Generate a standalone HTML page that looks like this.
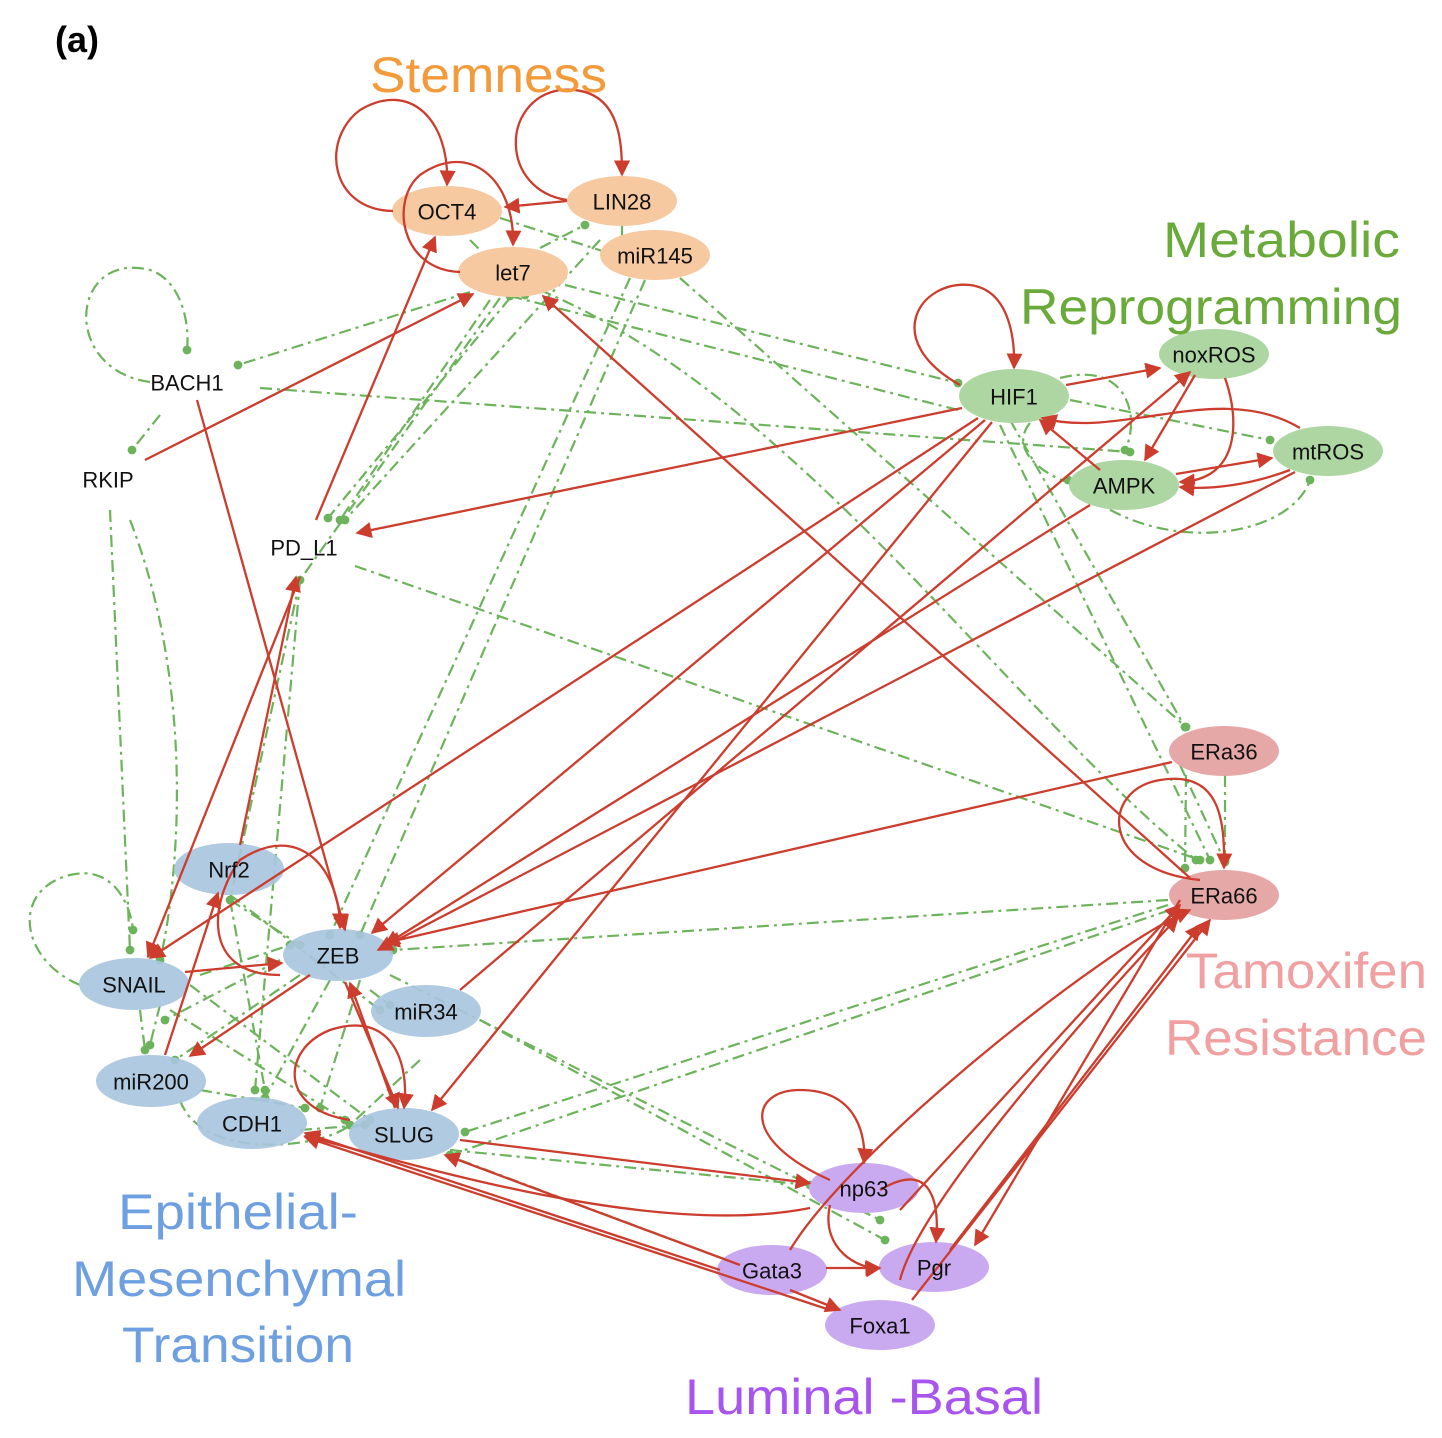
<!DOCTYPE html>
<html><head><meta charset="utf-8"><style>
html,body{margin:0;padding:0;background:#fff;}
svg{display:block;font-family:"Liberation Sans",Arial,sans-serif;}
</style></head><body>
<svg width="1442" height="1438" viewBox="0 0 1442 1438" xmlns="http://www.w3.org/2000/svg">
<defs>
<marker id="ar" viewBox="0 0 10 10" refX="9" refY="5" markerWidth="7" markerHeight="7" orient="auto"><path d="M0,0L10,5L0,10z" fill="#cc3d2e"/></marker>
<marker id="dt" viewBox="0 0 10 10" refX="5" refY="5" markerWidth="4" markerHeight="4"><circle cx="5" cy="5" r="5" fill="#6db35c"/></marker>
</defs>
<g fill="none" stroke="#6db35c" stroke-width="2.2" stroke-dasharray="12 5 3 5" marker-end="url(#dt)">
<path d="M150,382 C60,370 70,250 150,270 C180,280 190,320 187,350"/>
<path d="M160,415 L132,450"/>
<path d="M260,388 L1130,452"/>
<path d="M470,292 L238,365"/>
<path d="M565,285 L958,383"/>
<path d="M490,300 L340,520"/>
<path d="M510,298 L328,518"/>
<path d="M600,240 L345,520"/>
<path d="M630,278 L330,935"/>
<path d="M645,280 L360,935"/>
<path d="M500,298 L300,580"/>
<path d="M680,278 L1186,727"/>
<path d="M470,240 L525,295"/>
<path d="M500,218 L655,268"/>
<path d="M540,248 L585,225"/>
<path d="M622,225 L622,245"/>
<path d="M300,580 L255,1090"/>
<path d="M300,580 L230,900"/>
<path d="M355,566 L1200,860"/>
<path d="M110,510 L130,950"/>
<path d="M130,520 C200,700 175,900 160,960"/>
<path d="M80,985 C20,960 10,890 70,875 C110,865 130,900 133,930"/>
<path d="M958,410 L510,296"/>
<path d="M1010,420 L1185,727"/>
<path d="M1000,425 L1210,860"/>
<path d="M1070,400 L1270,440"/>
<path d="M1060,378 C1130,360 1140,420 1125,450"/>
<path d="M1070,480 C1150,560 1290,540 1310,480"/>
<path d="M1030,423 C1000,460 1080,490 1068,480"/>
<path d="M540,290 C800,400 1000,700 1196,860"/>
<path d="M1168,900 L393,950"/>
<path d="M1168,905 L465,1132"/>
<path d="M1170,910 L450,1155"/>
<path d="M1180,765 L1225,862"/>
<path d="M1186,775 L1185,868"/>
<path d="M1225,775 L1225,860"/>
<path d="M480,1020 L885,1240"/>
<path d="M450,1150 L810,1185"/>
<path d="M460,1160 L740,1265"/>
<path d="M390,975 L880,1220"/>
<path d="M200,1090 L305,1108"/>
<path d="M180,1100 C200,1160 320,1150 350,1125"/>
<path d="M170,1010 L345,1120"/>
<path d="M160,1005 L150,1045"/>
<path d="M140,1010 L145,1050"/>
<path d="M230,900 L265,1090"/>
<path d="M360,980 L320,1108"/>
<path d="M280,960 L165,1020"/>
<path d="M300,975 L175,1060"/>
<path d="M330,980 L265,1098"/>
<path d="M230,900 L300,945"/>
<path d="M230,895 L380,1010"/>
<path d="M190,985 L370,1120"/>
<path d="M200,975 L290,945"/>
<path d="M370,990 L390,1005"/>
<path d="M300,1130 L365,1125"/>
<path d="M420,1060 L350,1125"/>
</g>
<g>
<g fill="#f7c9a0"><ellipse cx="447" cy="211" rx="55" ry="25"/><ellipse cx="622" cy="201" rx="55" ry="25"/><ellipse cx="513" cy="272" rx="55" ry="25"/><ellipse cx="655" cy="255" rx="55" ry="25"/></g>
<g fill="#aed6a3"><ellipse cx="1014" cy="396" rx="55" ry="27"/><ellipse cx="1214" cy="354" rx="55" ry="25"/><ellipse cx="1328" cy="451" rx="55" ry="25"/><ellipse cx="1124" cy="485" rx="55" ry="25"/></g>
<g fill="#e6a7a7"><ellipse cx="1224" cy="751" rx="55" ry="25"/><ellipse cx="1224" cy="895" rx="55" ry="25"/></g>
<g fill="#a9c5de" fill-opacity="0.92"><ellipse cx="229" cy="869" rx="55" ry="26"/><ellipse cx="338" cy="955" rx="55" ry="26"/><ellipse cx="134" cy="984" rx="55" ry="26"/><ellipse cx="426" cy="1011" rx="55" ry="26"/><ellipse cx="151" cy="1081" rx="55" ry="26"/><ellipse cx="252" cy="1123" rx="55" ry="26"/><ellipse cx="404" cy="1134" rx="55" ry="26"/></g>
<g fill="#c9aaf0"><ellipse cx="864" cy="1188" rx="55" ry="25"/><ellipse cx="934" cy="1267" rx="55" ry="25"/><ellipse cx="772" cy="1270" rx="55" ry="25"/><ellipse cx="880" cy="1325" rx="55" ry="25"/></g>
</g>
<g fill="none" stroke="#cc3d2e" stroke-width="2.3" marker-end="url(#ar)">
<path d="M393,211 C330,210 320,140 360,110 C410,80 450,120 447,185"/>
<path d="M567,200 C500,190 500,100 560,90 C620,85 622,140 622,175"/>
<path d="M567,201 L505,207"/>
<path d="M460,272 C400,270 390,200 420,175 C470,140 515,180 513,245"/>
<path d="M145,460 L473,294"/>
<path d="M316,520 L435,237"/>
<path d="M197,400 L345,930"/>
<path d="M1190,878 L543,296"/>
<path d="M962,408 L357,533"/>
<path d="M960,385 C880,340 920,280 970,285 C1010,290 1015,340 1014,368"/>
<path d="M1066,385 L1160,368"/>
<path d="M978,418 L150,958"/>
<path d="M985,420 L372,933"/>
<path d="M992,422 L432,1110"/>
<path d="M1195,375 L1145,460"/>
<path d="M1100,470 L1040,420"/>
<path d="M1300,428 C1220,380 1120,440 1042,418"/>
<path d="M1176,474 L1272,458"/>
<path d="M1290,470 C1250,485 1210,490 1180,487"/>
<path d="M1225,378 C1240,420 1240,480 1180,482"/>
<path d="M460,990 L1190,372"/>
<path d="M1090,505 L385,945"/>
<path d="M1295,472 L378,950"/>
<path d="M1172,762 L385,943"/>
<path d="M1200,880 C1100,870 1100,790 1160,780 C1220,770 1225,820 1224,868"/>
<path d="M1180,900 L975,1245"/>
<path d="M900,1280 C920,1200 1100,1000 1178,917"/>
<path d="M790,1250 C850,1150 1100,950 1190,910"/>
<path d="M900,1210 L1180,905"/>
<path d="M912,1300 L1210,920"/>
<path d="M950,1250 L1200,925"/>
<path d="M460,1140 L810,1183"/>
<path d="M810,1208 C650,1240 400,1160 305,1136"/>
<path d="M720,1270 L305,1133"/>
<path d="M830,1310 L305,1137"/>
<path d="M740,1265 L445,1155"/>
<path d="M830,1180 C740,1140 750,1090 800,1090 C860,1090 866,1140 864,1163"/>
<path d="M880,1190 C930,1160 940,1200 936,1242"/>
<path d="M830,1205 C820,1250 860,1270 880,1268"/>
<path d="M826,1268 L880,1268"/>
<path d="M790,1290 L840,1310"/>
<path d="M345,982 L398,1108"/>
<path d="M395,1108 L350,983"/>
<path d="M350,1120 C280,1110 280,1050 330,1030 C390,1010 410,1060 404,1108"/>
<path d="M240,845 L296,577"/>
<path d="M300,577 L148,957"/>
<path d="M280,975 C200,975 210,900 240,860 C300,820 340,870 340,928"/>
<path d="M165,1055 L218,893"/>
<path d="M185,972 L282,963"/>
<path d="M310,975 L190,1056"/>
</g>
<g font-size="22" fill="#111" text-anchor="middle" dominant-baseline="central">
<text x="447" y="212">OCT4</text><text x="622" y="202">LIN28</text><text x="513" y="273">let7</text><text x="655" y="256">miR145</text>
<text x="187" y="383">BACH1</text><text x="108" y="480">RKIP</text><text x="304" y="548">PD_L1</text>
<text x="1014" y="397">HIF1</text><text x="1214" y="355">noxROS</text><text x="1328" y="452">mtROS</text><text x="1124" y="486">AMPK</text>
<text x="1224" y="752">ERa36</text><text x="1224" y="896">ERa66</text>
<text x="229" y="870">Nrf2</text><text x="338" y="956">ZEB</text><text x="134" y="985">SNAIL</text><text x="426" y="1012">miR34</text><text x="151" y="1082">miR200</text><text x="252" y="1124">CDH1</text><text x="404" y="1135">SLUG</text>
<text x="864" y="1189">np63</text><text x="934" y="1268">Pgr</text><text x="772" y="1271">Gata3</text><text x="880" y="1326">Foxa1</text>
</g>
<text x="55" y="52" font-size="36" font-weight="bold" fill="#000">(a)</text>
<g font-size="50" lengthAdjust="spacingAndGlyphs">
<text x="370" y="92" fill="#f39a3b" textLength="237" lengthAdjust="spacingAndGlyphs">Stemness</text>
<text x="1163" y="257" fill="#6aaa3a" textLength="237" lengthAdjust="spacingAndGlyphs">Metabolic</text>
<text x="1020" y="324" fill="#6aaa3a" textLength="382" lengthAdjust="spacingAndGlyphs">Reprogramming</text>
<text x="1186" y="988" fill="#f0a0a0" textLength="241" lengthAdjust="spacingAndGlyphs">Tamoxifen</text>
<text x="1165" y="1055" fill="#f0a0a0" textLength="262" lengthAdjust="spacingAndGlyphs">Resistance</text>
<text x="118" y="1229" fill="#6e9fe0" textLength="240" lengthAdjust="spacingAndGlyphs">Epithelial-</text>
<text x="72" y="1296" fill="#6e9fe0" textLength="334" lengthAdjust="spacingAndGlyphs">Mesenchymal</text>
<text x="122" y="1362" fill="#6e9fe0" textLength="232" lengthAdjust="spacingAndGlyphs">Transition</text>
<text x="685" y="1414" fill="#a855f0" textLength="358" lengthAdjust="spacingAndGlyphs">Luminal -Basal</text>
</g>
</svg>
</body></html>
